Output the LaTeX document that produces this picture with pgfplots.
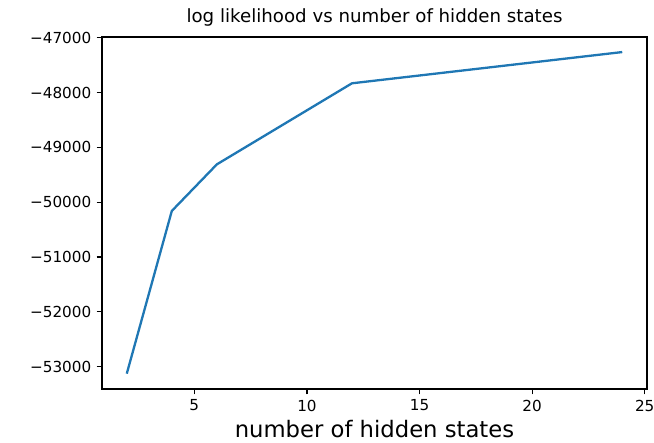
\documentclass[border=0pt]{standalone}
\usepackage{pgfplots}
\pgfplotsset{compat=1.18}
\usepackage{fontspec}
\setmainfont{DejaVu Sans}
\definecolor{mplblue}{HTML}{1F77B4}
\begin{document}
\begin{tikzpicture}
\begin{axis}[
  scale only axis,
  width=545pt, height=352pt,
  xmin=0.9, xmax=25.1,
  ymin=-53410, ymax=-46985,
  scaled y ticks=false,
  xtick={5,10,15,20,25},
  ytick={-53000,-52000,-51000,-50000,-49000,-48000,-47000},
  yticklabels={−53000,−52000,−51000,−50000,−49000,−48000,−47000},
  /pgf/number format/assume math mode=true,
  tick align=outside, xtick pos=bottom, ytick pos=left,
  major tick length=5.3pt,
  tick style={line width=1.2pt, black},
  axis line style={line width=1.2pt, black},
  ticklabel style={font=\fontsize{15.2}{18}\selectfont},
  xticklabel style={inner sep=0pt, yshift=-5.3pt, anchor=north},
  yticklabel style={inner sep=0pt, xshift=-5.3pt, anchor=east},
  title={log likelihood vs number of hidden states},
  title style={font=\fontsize{18.2}{21}\selectfont, at={(0.5,1)}, anchor=base, yshift=8pt, inner sep=0pt},
  xlabel={number of hidden states},
  xlabel style={font=\fontsize{22.7}{26}\selectfont, inner sep=0pt, anchor=base, at={(0.5,0)}, yshift=-49pt},
]
\addplot[mplblue, line width=2.3pt, line join=round] coordinates {
  (2,-53130) (4,-50160) (6,-49310) (12,-47830) (24,-47260)
};
\end{axis}
\pgfresetboundingbox
\path[use as bounding box] (current axis.south west) ++(-102pt,-54pt) rectangle ++(654pt,443pt);
\end{tikzpicture}
\end{document}
